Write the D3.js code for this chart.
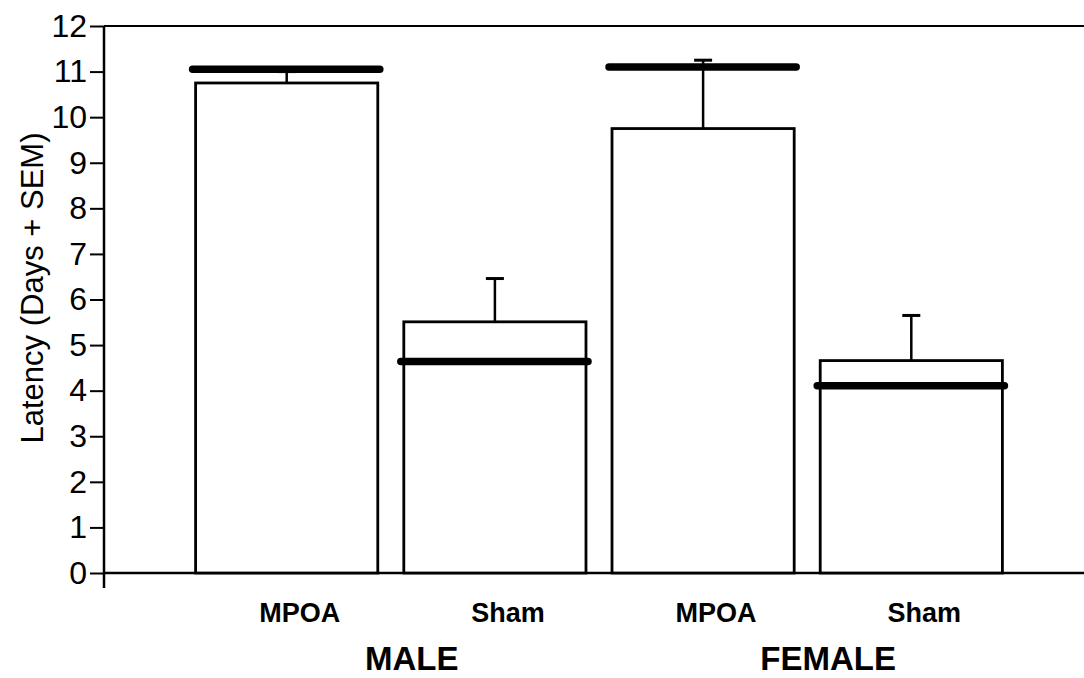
<!DOCTYPE html>
<html>
<head>
<meta charset="utf-8">
<script src="https://cdn.jsdelivr.net/npm/d3@7"></script>
<style>
  html, body { margin: 0; padding: 0; background: #fff; }
  svg { display: block; }
  text { font-family: "Liberation Sans", Arial, Helvetica, sans-serif; fill: #000; }
</style>
</head>
<body>
<svg id="chart" width="1084" height="678"></svg>
<script>
// Latency by lesion group, split by sex
const categories = ["Male MPOA", "Male Sham", "Female MPOA", "Female Sham"];
const barLabels  = ["MPOA", "Sham", "MPOA", "Sham"];
const sexes      = ["MALE", "FEMALE"];
const sexOf      = ["MALE", "MALE", "FEMALE", "FEMALE"];
const means      = [10.75, 5.51, 9.75, 4.66];
const semTops    = [11.0, 6.46, 11.25, 5.65];
const medians    = [11.05, 4.64, 11.1, 4.11];
const yTicks     = [0, 1, 2, 3, 4, 5, 6, 7, 8, 9, 10, 11, 12];
const yTitle     = "Latency (Days + SEM)";

const W = 1084, H = 678;
const axisX = 104;
const svg = d3.select("#chart");

const y = d3.scaleLinear().domain([0, 12]).range([573, 26]);
const x = d3.scaleBand().domain(categories).range([axisX, 1094])
  .paddingInner(0.125).paddingOuter(0.44);

// Frame: top line and x baseline run off the right edge
svg.append("line")
  .attr("x1", axisX).attr("x2", W)
  .attr("y1", y(12)).attr("y2", y(12))
  .attr("stroke", "#000").attr("stroke-width", 2);
svg.append("line")
  .attr("x1", axisX).attr("x2", W)
  .attr("y1", y(0)).attr("y2", y(0))
  .attr("stroke", "#000").attr("stroke-width", 2.5);
svg.append("line")
  .attr("x1", axisX).attr("x2", axisX)
  .attr("y1", y(12)).attr("y2", y(0) + 15)
  .attr("stroke", "#000").attr("stroke-width", 2.5);

// Y axis ticks and labels
const yAxis = svg.append("g")
  .attr("transform", `translate(${axisX},0)`)
  .call(d3.axisLeft(y).tickValues(yTicks).tickSize(14).tickPadding(3).tickFormat(d3.format("d")));
yAxis.select(".domain").remove();
yAxis.selectAll(".tick line").attr("stroke", "#000").attr("stroke-width", 2);
yAxis.selectAll(".tick text")
  .attr("font-size", 32)
  .attr("fill", "#000")
  .style("font-family", "'Liberation Sans', Arial, sans-serif");

// Axis title
svg.append("text")
  .attr("transform", `translate(43,288) rotate(-90)`)
  .attr("text-anchor", "middle")
  .attr("font-size", 31)
  .text(yTitle);

const data = categories.map((c, i) => ({
  cat: c, label: barLabels[i], sex: sexOf[i],
  mean: means[i], sem: semTops[i], median: medians[i]
}));

// Error bars (drawn first so bars sit on top of the stem base)
const cap = 18;
const eb = svg.append("g");
eb.selectAll("line.stem").data(data).join("line")
  .attr("class", "stem")
  .attr("x1", d => x(d.cat) + x.bandwidth() / 2)
  .attr("x2", d => x(d.cat) + x.bandwidth() / 2)
  .attr("y1", d => y(d.mean)).attr("y2", d => y(d.sem))
  .attr("stroke", "#000").attr("stroke-width", 2.5);
eb.selectAll("line.cap").data(data).join("line")
  .attr("class", "cap")
  .attr("x1", d => x(d.cat) + x.bandwidth() / 2 - cap / 2)
  .attr("x2", d => x(d.cat) + x.bandwidth() / 2 + cap / 2)
  .attr("y1", d => y(d.sem)).attr("y2", d => y(d.sem))
  .attr("stroke", "#000").attr("stroke-width", 3);

// Bars
svg.append("g").selectAll("rect").data(data).join("rect")
  .attr("x", d => x(d.cat))
  .attr("y", d => y(d.mean))
  .attr("width", x.bandwidth())
  .attr("height", d => y(0) - y(d.mean))
  .attr("fill", "#fff")
  .attr("stroke", "#000")
  .attr("stroke-width", 2.8);

// Thick median lines
svg.append("g").selectAll("line").data(data).join("line")
  .attr("x1", d => x(d.cat) - 3)
  .attr("x2", d => x(d.cat) + x.bandwidth() + 2)
  .attr("y1", d => y(d.median)).attr("y2", d => y(d.median))
  .attr("stroke", "#000").attr("stroke-width", 7.5)
  .attr("stroke-linecap", "round");

// Group labels under each bar
svg.append("g").selectAll("text").data(data).join("text")
  .attr("x", d => x(d.cat) + x.bandwidth() / 2 + 13)
  .attr("y", 622)
  .attr("text-anchor", "middle")
  .attr("font-size", 27)
  .attr("font-weight", "bold")
  .text(d => d.label);

// Sex labels centred under each pair
svg.append("g").selectAll("text").data(sexes).join("text")
  .attr("x", s => {
    const cats = data.filter(d => d.sex === s).map(d => d.cat);
    const left = x(cats[0]);
    const right = x(cats[cats.length - 1]) + x.bandwidth();
    return (left + right) / 2 + 21;
  })
  .attr("y", 670)
  .attr("text-anchor", "middle")
  .attr("font-size", 33)
  .attr("font-weight", "bold")
  .text(s => s);
</script>
</body>
</html>
